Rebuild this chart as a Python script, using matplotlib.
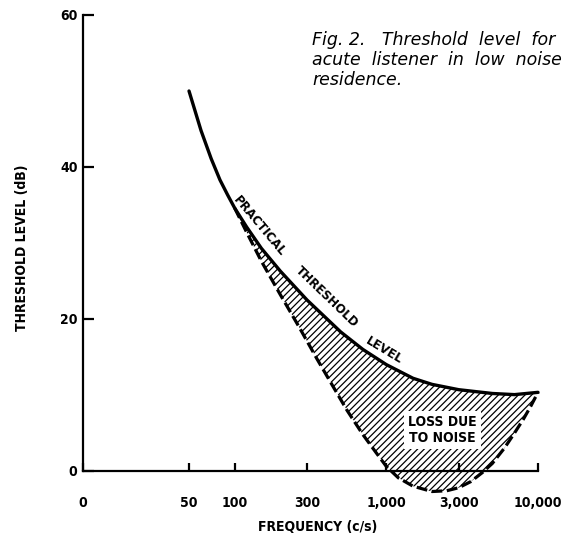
import numpy as np
import matplotlib
matplotlib.use("Agg")
import matplotlib.pyplot as plt

# Data
freq_solid = [50, 60, 70, 80, 90, 100, 120, 150, 200, 300, 500, 700, 1000, 1500, 2000, 3000, 5000, 7000, 10000]
level_solid = [50.0, 44.8, 41.1, 38.3, 36.3, 34.6, 32.1, 29.3, 26.3, 22.5, 18.3, 16.0, 14.0, 12.2, 11.4, 10.7, 10.2, 10.05, 10.35]

freq_dashed = [100, 120, 150, 200, 265, 350, 440, 550, 700, 850, 1000, 1200, 1500, 2000, 2500, 3000,
               3600, 4300, 5000, 6000, 7000, 8000, 9000, 10000]
level_dashed = [34.6, 31.4, 27.6, 23.2, 19.0, 14.7, 11.3, 8.0, 4.8, 2.5, 0.6, -0.9, -2.0, -2.7, -2.6, -2.2,
                -1.4, -0.2, 1.0, 3.0, 5.0, 6.8, 8.6, 10.35]

x_ticks = [10, 50, 100, 300, 1000, 3000, 10000]
x_tick_labels = ["0", "50", "100", "300", "1,000", "3,000", "10,000"]
y_ticks = [0, 20, 40, 60]
y_tick_labels = ["0", "20", "40", "60"]

FONT = "DejaVu Sans"

fig = plt.figure(figsize=(5.64, 5.40), dpi=100)
ax = fig.add_axes([83/564, (540-471)/540, (538-83)/564, (471-15)/540])
ax.set_xscale("log")
ax.set_xlim(10, 10000)
ax.set_ylim(0, 60)

# hatched loss region
i0 = freq_solid.index(100)
poly_x = freq_solid[i0:] + freq_dashed[::-1]
poly_y = level_solid[i0:] + level_dashed[::-1]
plt.rcParams['hatch.linewidth'] = 0.9
ax.fill(poly_x, poly_y, facecolor="white", edgecolor="black", hatch="/////",
        linewidth=0, clip_on=False, zorder=1)

ax.plot(freq_solid, level_solid, color="black", lw=2.4, clip_on=False, zorder=3,
        solid_capstyle="round", solid_joinstyle="round")
ax.plot(freq_dashed, level_dashed, color="black", lw=2.3, clip_on=False, zorder=3,
        linestyle=(0, (3.4, 1.4)))

for s in ["top", "right"]:
    ax.spines[s].set_visible(False)
for s in ["left", "bottom"]:
    ax.spines[s].set_linewidth(1.6)

ax.set_xticks(x_ticks)
ax.set_xticklabels(x_tick_labels)
ax.minorticks_off()
ax.set_yticks(y_ticks)
ax.set_yticklabels(y_tick_labels)
ax.tick_params(axis="x", direction="in", length=6, width=1.6, pad=18, labelsize=10)
ax.tick_params(axis="y", direction="in", length=8, width=1.6, pad=4, labelsize=10)
for lab in ax.get_xticklabels() + ax.get_yticklabels():
    lab.set_fontweight("bold")
    lab.set_family(FONT)
    lab.set_fontstretch("condensed")

fig.text(22/564, 1 - 248/540, "THRESHOLD LEVEL (dB)", rotation=90, ha="center", va="center",
         fontsize=10, fontweight="bold", family=FONT, fontstretch="condensed")
fig.text(318/564, 1 - 527/540, "FREQUENCY (c/s)", ha="center", va="center",
         fontsize=10, fontweight="bold", family=FONT, fontstretch="condensed")

fig.text(312/564, 1 - 31/540, "Fig. 2.   Threshold  level  for\nacute  listener  in  low  noise\nresidence.",
         ha="left", va="top", fontsize=12.5, style="italic", family=FONT,
         linespacing=1.15)

# curved label along the threshold curve
def place(word, x, y, rot):
    fig.text(x/564, 1 - y/540, word, rotation=rot, ha="center", va="center",
             fontsize=9.5, fontweight="bold", family=FONT, fontstretch="condensed",
             rotation_mode="anchor")

place("PRACTICAL", 259, 226, -50)
place("THRESHOLD", 327, 297, -44)
place("LEVEL", 384, 350, -31)

ax.text(2350, 5.4, "LOSS DUE\nTO NOISE", ha="center", va="center", fontsize=10,
        fontweight="bold", family=FONT, fontstretch="condensed", zorder=4,
        bbox=dict(facecolor="white", edgecolor="none", pad=3), linespacing=1.15)

fig.savefig("out.png", dpi=100)
